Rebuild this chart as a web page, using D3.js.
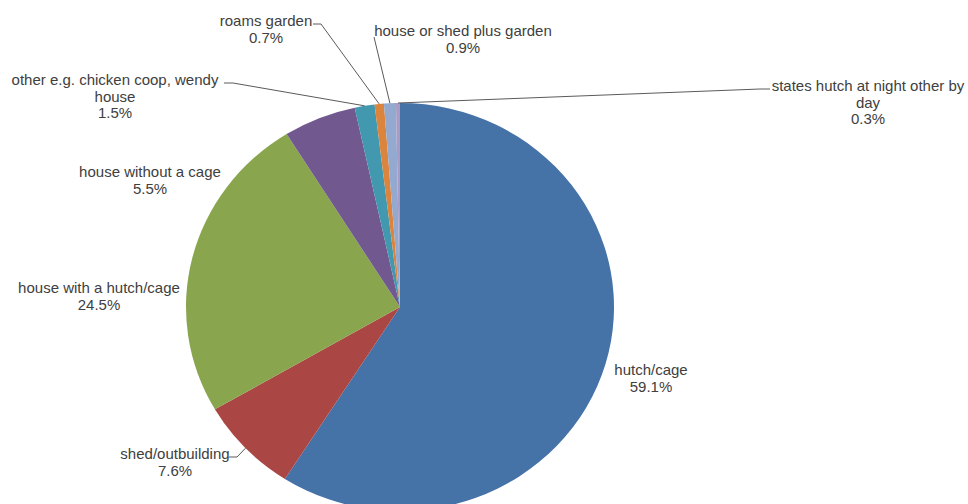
<!DOCTYPE html>
<html>
<head>
<meta charset="utf-8">
<script src="https://cdn.jsdelivr.net/npm/d3@7"></script>
<style>
  html, body { margin: 0; padding: 0; background: #fff; }
  svg text { font-family: "Liberation Sans", Arial, sans-serif; font-size: 15px; fill: #404040; }
</style>
</head>
<body>
<div id="chart"></div>
<script>
// Where rabbits are kept - pie chart with outside labels

const categories = [
    'hutch/cage',
    'shed/outbuilding',
    'house with a hutch/cage',
    'house without a cage',
    'other e.g. chicken coop, wendy house',
    'roams garden',
    'house or shed plus garden',
    'states hutch at night other by day'
];
const values = [59.1, 7.6, 24.5, 5.5, 1.5, 0.7, 0.9, 0.3];
// how each category label wraps
const labelLines = [
    ['hutch/cage'],
    ['shed/outbuilding'],
    ['house with a hutch/cage'],
    ['house without a cage'],
    ['other e.g. chicken coop, wendy', 'house'],
    ['roams garden'],
    ['house or shed plus garden'],
    ['states hutch at night other by', 'day']
];
const colors = ['#4572A7', '#AA4643', '#89A54E', '#71588F', '#4198AF', '#DB843D', '#93A9CF', '#A99BC4'];

// layout: label centre + first baseline, optional leader start (x, y, horizontal run)
const labelPos = [
    { x: 651, y: 375 },
    { x: 175, y: 459, lead: [229, 457, 8] },
    { x: 99, y: 293 },
    { x: 150, y: 177 },
    { x: 115, y: 85, lead: [224, 83, 9] },
    { x: 266, y: 26, lead: [313, 24, 8] },
    { x: 463, y: 36, lead: [374, 37, 0] },
    { x: 868, y: 91, lead: [770, 89, -10] }
];

const W = 968, H = 504;
const cx = 400, cy = 307, rx = 214, ry = 204;
const lineH = 16.5;

const svg = d3.select('#chart')
    .append('svg')
    .attr('width', W)
    .attr('height', H);

const pie = d3.pie().sort(null).value(d => d)(values);
const arc = d3.arc().innerRadius(0).outerRadius(rx);

// pie is slightly squashed vertically in the original
svg.append('g')
    .attr('transform', `translate(${cx},${cy}) scale(1,${ry / rx})`)
    .selectAll('path')
    .data(pie)
    .enter()
    .append('path')
    .attr('d', arc)
    .attr('fill', (d, i) => colors[i]);

// point on the rim at a slice's mid angle
function rimPoint(d) {
    const a = (d.startAngle + d.endAngle) / 2;
    return [cx + rx * Math.sin(a), cy - ry * Math.cos(a)];
}

// leader lines
svg.append('g')
    .selectAll('path')
    .data(pie.filter((d, i) => labelPos[i].lead))
    .enter()
    .append('path')
    .attr('fill', 'none')
    .attr('stroke', '#5a5a5a')
    .attr('stroke-width', 1)
    .attr('d', d => {
        const [x0, y0, run] = labelPos[d.index].lead;
        const [x1, y1] = rimPoint(d);
        return `M${x0},${y0}L${x0 + run},${y0}L${x1},${y1}`;
    });

// labels: category lines then percentage
const fmt = d3.format('.1f');
const labels = svg.append('g')
    .selectAll('text')
    .data(categories)
    .enter()
    .append('text')
    .attr('text-anchor', 'middle')
    .attr('x', (d, i) => labelPos[i].x)
    .attr('y', (d, i) => labelPos[i].y);

labels.each(function(d, i) {
    const t = d3.select(this);
    const lines = labelLines[i].concat([fmt(values[i]) + '%']);
    lines.forEach((ln, j) => {
        t.append('tspan')
            .attr('x', labelPos[i].x)
            .attr('y', labelPos[i].y + j * lineH)
            .text(ln);
    });
});
</script>
</body>
</html>
